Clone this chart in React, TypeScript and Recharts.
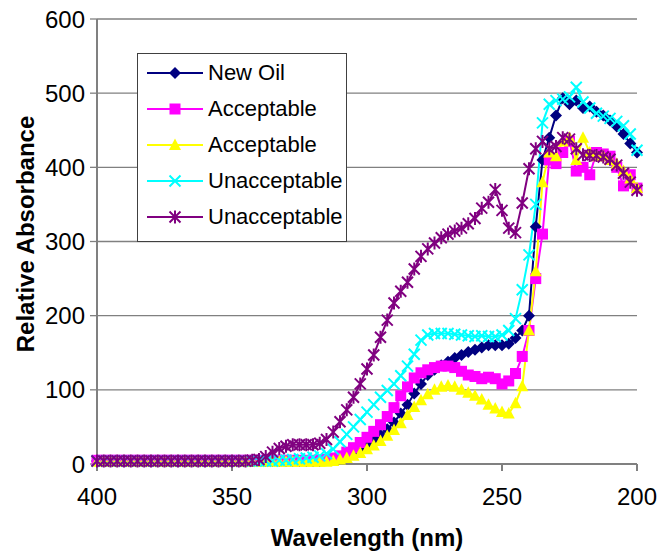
import * as React from 'react';
import { LineChart, Line, XAxis, YAxis, CartesianGrid, Legend, Label } from 'recharts';

// wavelength (nm), read every 2.5 nm off the scan
const wavelength = [
  400, 397.5, 395, 392.5, 390, 387.5, 385, 382.5, 380, 377.5,
  375, 372.5, 370, 367.5, 365, 362.5, 360, 357.5, 355, 352.5,
  350, 347.5, 345, 342.5, 340, 337.5, 335, 332.5, 330, 327.5,
  325, 322.5, 320, 317.5, 315, 312.5, 310, 307.5, 305, 302.5,
  300, 297.5, 295, 292.5, 290, 287.5, 285, 282.5, 280, 277.5,
  275, 272.5, 270, 267.5, 265, 262.5, 260, 257.5, 255, 252.5,
  250, 247.5, 245, 242.5, 240, 237.5, 235, 232.5, 230, 227.5,
  225, 222.5, 220, 217.5, 215, 212.5, 210, 207.5, 205, 202.5,
  200,
];

const newOil = [
  4, 4, 4, 4, 4, 4, 4, 4, 4, 4,
  4, 4, 4, 4, 4, 4, 4, 4, 4, 4,
  4, 4, 4, 4, 4, 4, 4, 4, 4, 4,
  4, 4, 4, 4, 5, 6, 8, 12, 16, 21,
  27, 33, 39, 47, 56, 68, 80, 95, 108, 120,
  127, 133, 138, 143, 147, 151, 154, 157, 160, 160,
  160, 162, 170, 180, 200, 320, 410, 440, 470, 493,
  485, 490, 480, 482, 475, 470, 463, 455, 445, 432,
  420,
];

const acceptableA = [
  5, 5, 5, 5, 5, 5, 5, 5, 5, 5,
  5, 5, 5, 5, 5, 5, 5, 5, 5, 5,
  5, 5, 5, 5, 5, 5, 5, 5, 5, 5,
  5, 5, 5, 5, 6, 8, 11, 16, 22, 29,
  36, 44, 53, 64, 76, 92, 104, 116, 123, 127,
  130, 132, 132, 130, 125, 120, 118, 115, 117, 115,
  108, 112, 122, 145, 180, 250, 310, 410, 405, 420,
  435, 395, 400, 390, 420, 418, 415, 400, 375, 390,
  372,
];

const acceptableB = [
  3, 3, 3, 3, 3, 3, 3, 3, 3, 3,
  3, 3, 3, 3, 3, 3, 3, 3, 3, 3,
  3, 3, 3, 3, 3, 3, 3, 3, 3, 3,
  3, 3, 3, 3, 3, 4, 6, 8, 11, 15,
  20, 25, 31, 38, 46, 55, 66, 77, 86, 94,
  100, 104, 106, 104, 100, 96, 92, 87, 80, 75,
  70, 68, 82, 105, 180, 260, 380, 420, 415, 435,
  440, 410, 440, 420, 415, 415, 410, 405, 395, 385,
  372,
];

const unacceptableA = [
  4, 4, 4, 4, 4, 4, 4, 4, 4, 4,
  4, 4, 4, 4, 4, 4, 4, 4, 4, 4,
  4, 4, 4, 4, 4, 4, 4, 5, 5, 6,
  7, 8, 9, 11, 14, 20, 30, 40, 50, 60,
  70, 80, 90, 99, 108, 119, 132, 148, 167, 174,
  176, 176, 176, 175, 174, 173, 172, 173, 172, 172,
  174, 180, 196, 235, 282, 350, 460, 485, 490, 492,
  495, 508, 488, 480, 473, 469, 466, 462, 456, 445,
  423,
];

const unacceptableB = [
  4, 4, 4, 4, 4, 4, 4, 4, 4, 4,
  4, 4, 4, 4, 4, 4, 4, 4, 4, 4,
  4, 4, 4, 5, 6, 10, 16, 21, 24, 26,
  26, 26, 26, 28, 33, 43, 57, 73, 90, 108,
  128, 147, 171, 194, 217, 233, 245, 263, 280, 290,
  298, 305, 310, 314, 318, 324, 331, 345, 353, 370,
  342, 318, 312, 352, 398, 425, 435, 425, 428, 440,
  438, 425, 417, 416, 416, 414, 411, 403, 392, 380,
  369,
];

const xTicks = [400, 350, 300, 250, 200];
const yTicks = [0, 100, 200, 300, 400, 500, 600];

const rows = wavelength.map((nm, i) => ({
  nm,
  newOil: newOil[i],
  accA: acceptableA[i],
  accB: acceptableB[i],
  unaccA: unacceptableA[i],
  unaccB: unacceptableB[i],
}));

const FONT = '"Liberation Sans", Arial, sans-serif';
const GRAY = '#808080';

type Shape = 'diamond' | 'square' | 'triangle' | 'cross' | 'star';

const series: { key: string; name: string; color: string; shape: Shape }[] = [
  { key: 'newOil', name: 'New Oil', color: '#000080', shape: 'diamond' },
  { key: 'accA', name: 'Acceptable', color: '#FF00FF', shape: 'square' },
  { key: 'accB', name: 'Acceptable', color: '#FFFF00', shape: 'triangle' },
  { key: 'unaccA', name: 'Unacceptable', color: '#00FFFF', shape: 'cross' },
  { key: 'unaccB', name: 'Unacceptable', color: '#800080', shape: 'star' },
];

function marker(shape: Shape, color: string, cx: number, cy: number, key?: string) {
  switch (shape) {
    case 'diamond':
      return <path key={key} d={`M${cx},${cy - 6}L${cx + 6},${cy}L${cx},${cy + 6}L${cx - 6},${cy}Z`} fill={color} />;
    case 'square':
      return <rect key={key} x={cx - 5.5} y={cy - 5.5} width={11} height={11} fill={color} />;
    case 'triangle':
      return <path key={key} d={`M${cx},${cy - 6.5}L${cx + 6},${cy + 5}L${cx - 6},${cy + 5}Z`} fill={color} />;
    case 'cross':
      return (
        <path key={key} d={`M${cx - 5.5},${cy - 5.5}L${cx + 5.5},${cy + 5.5}M${cx - 5.5},${cy + 5.5}L${cx + 5.5},${cy - 5.5}`}
          stroke={color} strokeWidth={2} fill="none" />
      );
    default:
      return (
        <path key={key}
          d={`M${cx - 5.5},${cy - 5.5}L${cx + 5.5},${cy + 5.5}M${cx - 5.5},${cy + 5.5}L${cx + 5.5},${cy - 5.5}M${cx},${cy - 6.5}L${cx},${cy + 6.5}`}
          stroke={color} strokeWidth={2} fill="none" />
      );
  }
}

const makeDot = (shape: Shape, color: string) => (p: any) => {
  const k = `${shape}-${p.index}`;
  if (p.cx == null || p.cy == null) return <g key={k} />;
  return marker(shape, color, p.cx, p.cy, k);
};

const LegendBox = () => (
  <div
    style={{
      boxSizing: 'border-box',
      width: 210,
      height: 189,
      border: '1.5px solid #404040',
      background: '#fff',
      paddingTop: 1,
      fontFamily: FONT,
      fontSize: 22,
      color: '#000',
    }}
  >
    {series.map((s) => (
      <div key={s.key} style={{ display: 'flex', alignItems: 'center', height: 36 }}>
        <svg width={70} height={36} style={{ flex: 'none' }}>
          <line x1={9} x2={65} y1={18} y2={18} stroke={s.color} strokeWidth={2} />
          {marker(s.shape, s.color, 37, 18)}
        </svg>
        <span style={{ whiteSpace: 'nowrap' }}>{s.name}</span>
      </div>
    ))}
  </div>
);

const XTitle = (props: any) => {
  const vb = props.viewBox;
  return (
    <text x={vb.x + vb.width / 2} y={vb.y + 73} textAnchor="middle" dominantBaseline="central"
      fontFamily={FONT} fontSize={24} fontWeight="bold" fill="#000">
      Wavelength (nm)
    </text>
  );
};

const YTitle = (props: any) => {
  const cx = 25;
  const cy = 234;
  return (
    <text x={cx} y={cy} transform={`rotate(-90, ${cx}, ${cy})`} textAnchor="middle" dominantBaseline="central"
      fontFamily={FONT} fontSize={24} fontWeight="bold" fill="#000">
      Relative Absorbance
    </text>
  );
};

const App = () => {
  return (
    <div>
      <style>{'body { margin: 0; }'}</style>
      <LineChart width={659} height={552} data={rows} margin={{ top: 19, right: 22, left: 0, bottom: 0 }}>
        <CartesianGrid vertical={false} stroke={GRAY} strokeWidth={1.3} />
        <XAxis
          type="number"
          dataKey="nm"
          domain={[200, 400]}
          reversed
          ticks={xTicks}
          interval={0}
          height={88}
          tickSize={7}
          tickMargin={17}
          axisLine={{ stroke: GRAY, strokeWidth: 2 }}
          tickLine={{ stroke: GRAY, strokeWidth: 2 }}
          tick={{ fill: '#000', fontSize: 24, fontFamily: FONT }}
        >
          <Label content={XTitle} />
        </XAxis>
        <YAxis
          type="number"
          domain={[0, 600]}
          ticks={yTicks}
          interval={0}
          width={97}
          tickSize={7}
          tickMargin={5}
          axisLine={{ stroke: GRAY, strokeWidth: 2 }}
          tickLine={{ stroke: GRAY, strokeWidth: 1.3 }}
          tick={{ fill: '#000', fontSize: 24, fontFamily: FONT }}
        >
          <Label content={YTitle} />
        </YAxis>
        <Legend
          layout="vertical"
          align="center"
          verticalAlign="middle"
          content={LegendBox}
          wrapperStyle={{ left: 137, top: 53, width: 210, height: 189 }}
        />
        {series.map((s) => (
          <Line
            key={s.key}
            dataKey={s.key}
            name={s.name}
            type="linear"
            stroke={s.color}
            strokeWidth={2}
            dot={makeDot(s.shape, s.color)}
            activeDot={false}
            isAnimationActive={false}
          />
        ))}
      </LineChart>
    </div>
  );
};

export default App;
